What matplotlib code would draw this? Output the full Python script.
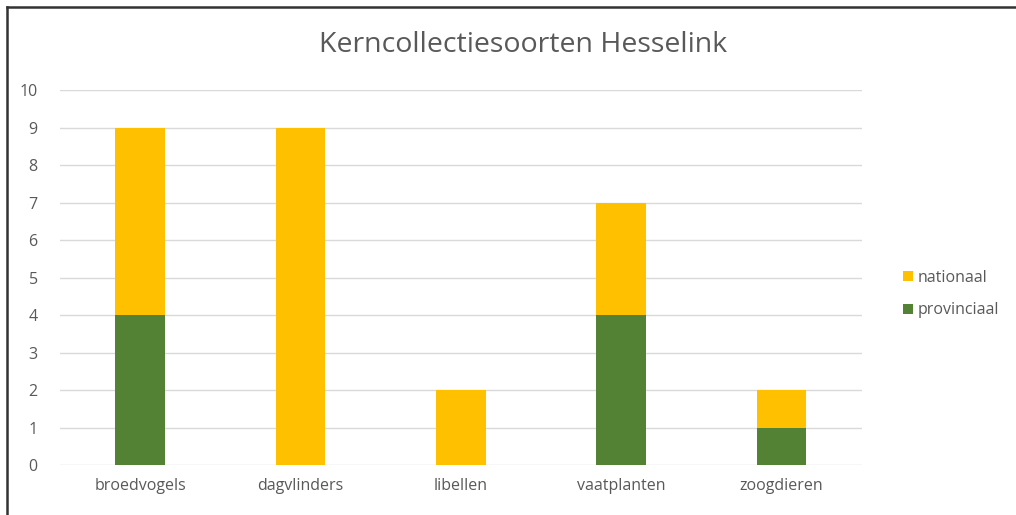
import numpy as np
import matplotlib.pyplot as plt
from matplotlib.lines import Line2D

categories = ["broedvogels", "dagvlinders", "libellen", "vaatplanten", "zoogdieren"]
provinciaal = [4, 0, 0, 4, 1]
nationaal = [5, 9, 2, 3, 1]
y_ticks = list(range(0, 11))

GREEN = "#548235"
YELLOW = "#FFC000"
TEXT = "#595959"

plt.rcParams['font.family'] = ['Open Sans', 'DejaVu Sans']

fig = plt.figure(figsize=(10.16, 5.15), dpi=100)
ax = fig.add_axes([0.059, 0.097, 0.789, 0.728])

x = np.arange(len(categories))
width = 0.31
ax.bar(x, provinciaal, width, color=GREEN, label="provinciaal", zorder=3)
ax.bar(x, nationaal, width, bottom=provinciaal, color=YELLOW, label="nationaal", zorder=3)

ax.set_xlim(-0.5, len(categories) - 0.5)
ax.set_ylim(0, 10)
ax.set_yticks(y_ticks)
ax.set_xticks(x)
ax.set_xticklabels(categories)
ax.tick_params(axis='both', length=0, colors=TEXT, labelsize=11.5)
ax.tick_params(axis='x', pad=9)
ax.tick_params(axis='y', pad=16)
ax.grid(axis='y', color="#D9D9D9", linewidth=1, zorder=0)
for s in ax.spines.values():
    s.set_visible(False)

fig.text(0.515, 0.912, "Kerncollectiesoorten Hesselink", ha='center', va='center',
         fontsize=20.5, color=TEXT)

handles, labels = ax.get_legend_handles_labels()
fig.legend(handles[::-1], labels[::-1], loc='center left', bbox_to_anchor=(0.875, 0.429),
           frameon=False, fontsize=11.5, labelcolor=TEXT, handlelength=0.6,
           handleheight=0.6, handletextpad=0.3, labelspacing=1.05)

# only top and left edges of the frame are visible in the crop
fig.add_artist(Line2D([0.007, 0.007], [0.0, 0.987], transform=fig.transFigure,
                      color="#333333", linewidth=1.8))
fig.add_artist(Line2D([0.007, 1.0], [0.987, 0.987], transform=fig.transFigure,
                      color="#333333", linewidth=1.8))

fig.savefig("out.png", dpi=100)
